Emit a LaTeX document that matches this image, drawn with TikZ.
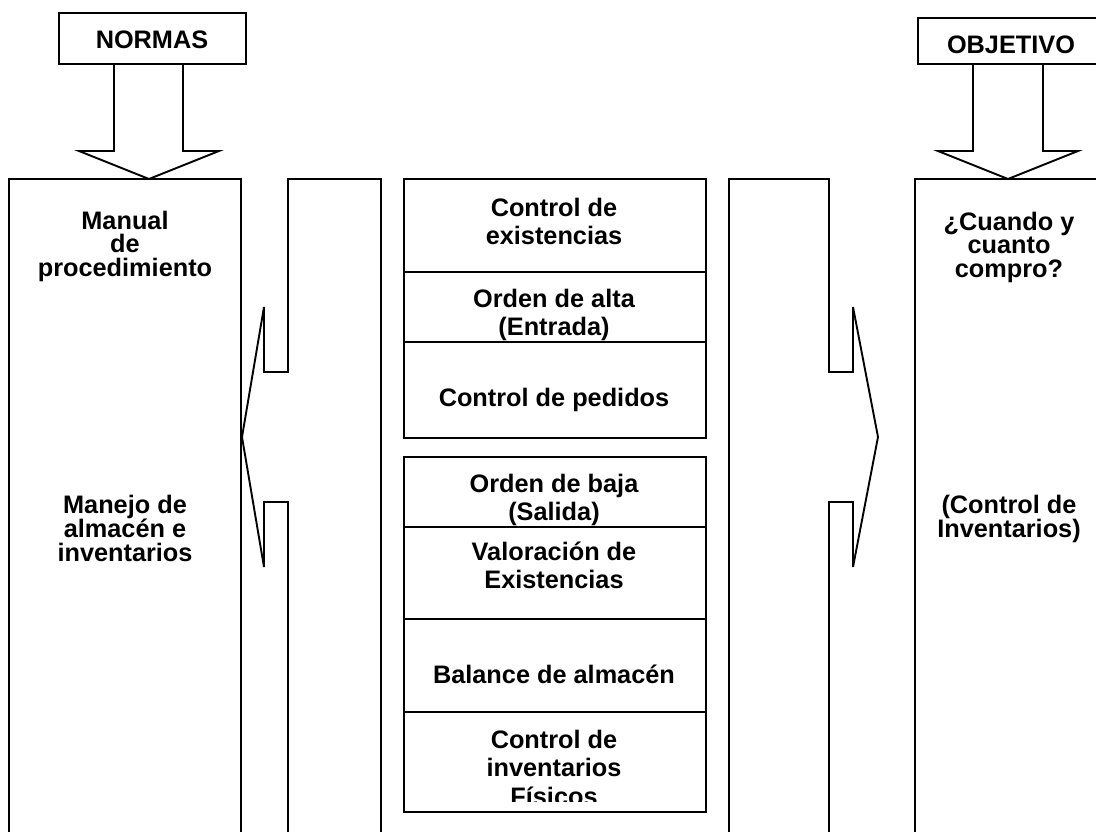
\documentclass[tikz,border=0pt]{standalone}
\usepackage{fontspec}
\setmainfont{Liberation Sans}
\begin{document}
\begin{tikzpicture}[x=1pt,y=-1pt, line width=1.9pt, line join=miter,
  lbl/.style={font=\fontsize{25.3}{27.5}\selectfont\bfseries, align=center, inner sep=0pt, anchor=base},
  tight/.style={lbl, font=\fontsize{25.3}{23.2}\selectfont\bfseries}]
\useasboundingbox (0,0) rectangle (1096,831);
\clip (0,0) rectangle (1096,831);
% NORMAS
\draw (59,13) rectangle (246,64);
\node[lbl] (normas) at (152,48) {NORMAS};
\draw (114,64) -- (114,151) -- (79,151) -- (149,179) -- (219,151) -- (183,151) -- (183,64);
% OBJETIVO
\draw (918,18) rectangle (1110,64);
\node[lbl] (objetivo) at (1011,53) {OBJETIVO};
\draw (973,64) -- (973,151) -- (938,151) -- (1008,179) -- (1078,151) -- (1043,151) -- (1043,64);
% left tall box
\draw (9,845) -- (9,179) -- (241,179) -- (241,845);
\node[tight] (manual) at (125,276) {Manual\\de\\procedimiento};
\node[tight] (manejo) at (125,561) {Manejo de\\almacén e\\inventarios};
% left block arrow
\draw (288,845) -- (288,502) -- (264,502) -- (264,567) -- (242,437) -- (264,307) -- (264,372) -- (288,372) -- (288,179) -- (381,179) -- (381,845);
% right block arrow
\draw (729,845) -- (729,179) -- (829,179) -- (829,372) -- (853,372) -- (853,307) -- (878,437) -- (853,567) -- (853,502) -- (829,502) -- (829,845);
% right tall box
\draw (915,845) -- (915,179) -- (1110,179) -- (1110,845);
\node[tight] (cuando) at (1009,277) {¿Cuando y\\cuanto\\compro?};
\node[lbl, font=\fontsize{25.3}{24}\selectfont\bfseries] (ctrlinv) at (1009,537) {(Control de\\Inventarios)};
% middle column, upper group
\draw (404,179) rectangle (706,438);
\draw (404,272) -- (706,272);
\draw (404,342) -- (706,342);
\node[lbl] (existencias) at (554,244) {Control de\\existencias};
\node[lbl] (alta) at (554,335) {Orden de alta\\(Entrada)};
\node[lbl] (pedidos) at (554,406) {Control de pedidos};
% middle column, lower group
\draw (404,457) rectangle (706,812);
\draw (404,527) -- (706,527);
\draw (404,619) -- (706,619);
\draw (404,712) -- (706,712);
\node[lbl] (baja) at (554,520) {Orden de baja\\(Salida)};
\node[lbl] (valoracion) at (554,588) {Valoración de\\Existencias};
\node[lbl] (balance) at (554,683) {Balance de almacén};
\begin{scope}
\clip (404,712) rectangle (706,801);
\node[lbl, font=\fontsize{25.3}{28.5}\selectfont\bfseries] (fisicos) at (554,805) {Control de\\inventarios\\Físicos};
\end{scope}
\end{tikzpicture}
\end{document}
